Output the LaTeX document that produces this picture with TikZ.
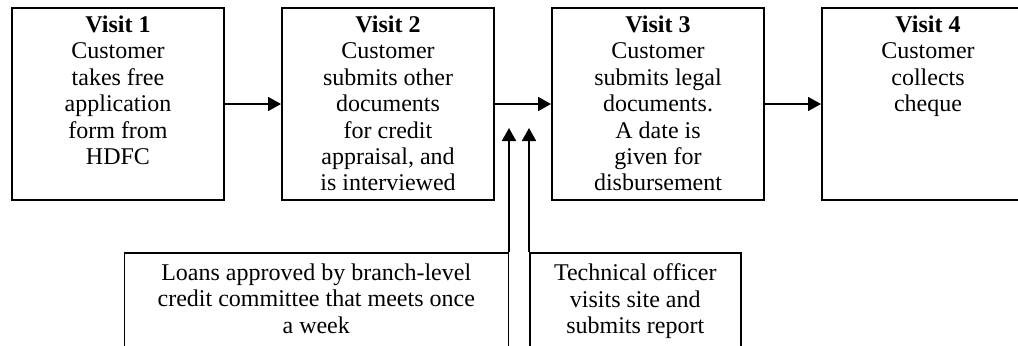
\documentclass[tikz,border=0pt]{standalone}
\usepackage{fontspec}
\setmainfont{Liberation Serif}
\usetikzlibrary{arrows.meta, positioning, calc}

\begin{document}
\begin{tikzpicture}[->,>={Triangle[length=6.5pt,width=7pt]},line width=0.9pt,
  node distance=28pt,
  visit/.style={draw,-,line width=1pt,minimum width=106pt,minimum height=96pt,inner sep=0pt},
  low/.style={draw,-,line width=0.75pt,minimum height=60pt,inner sep=0pt},
  txt/.style={align=center,inner sep=0pt,font=\fontsize{12}{13.2}\selectfont}]
  \useasboundingbox (0,0) rectangle (509pt,172.5pt);
  \clip (0,0) rectangle (509pt,172.5pt);
  \node[visit,anchor=north west] (v1) at (5.5pt,169pt) {};
  \node[visit] (v2) [right=of v1] {};
  \node[visit] (v3) [right=of v2] {};
  \node[visit] (v4) [right=of v3] {};
  \node[txt] (t1) [below=4pt of v1.north] {\textbf{Visit 1}\\Customer\\takes free\\application\\form from\\HDFC};
  \node[txt] (t2) [below=4pt of v2.north] {\textbf{Visit 2}\\Customer\\submits other\\documents\\for credit\\appraisal, and\\is interviewed};
  \node[txt] (t3) [below=4pt of v3.north] {\textbf{Visit 3}\\Customer\\submits legal\\documents.\\A date is\\given for\\disbursement};
  \node[txt] (t4) [below=4pt of v4.north] {\textbf{Visit 4}\\Customer\\collects\\cheque};
  \node[low,minimum width=192pt,anchor=north east] (lb) at (254.5pt,46.5pt) {};
  \node[low,minimum width=105.5pt,anchor=north west] (rb) at (264.5pt,46.5pt) {};
  \node[txt] (tl) [below=5.5pt of lb.north] {Loans approved by branch-level\\credit committee that meets once\\a week};
  \node[txt] (tr) [below=5.5pt of rb.north] {Technical officer\\visits site and\\submits report};
  \coordinate (gap) at ($(v2.east)!0.5!(v3.west)$);
  \coordinate[below=12pt of gap] (tip);
  \path
    (v1) edge (v2)
    (v2) edge (v3)
    (v3) edge (v4);
  \draw (lb.north east) -- (lb.north east |- tip);
  \draw (rb.north west) -- (rb.north west |- tip);
\end{tikzpicture}
\end{document}
